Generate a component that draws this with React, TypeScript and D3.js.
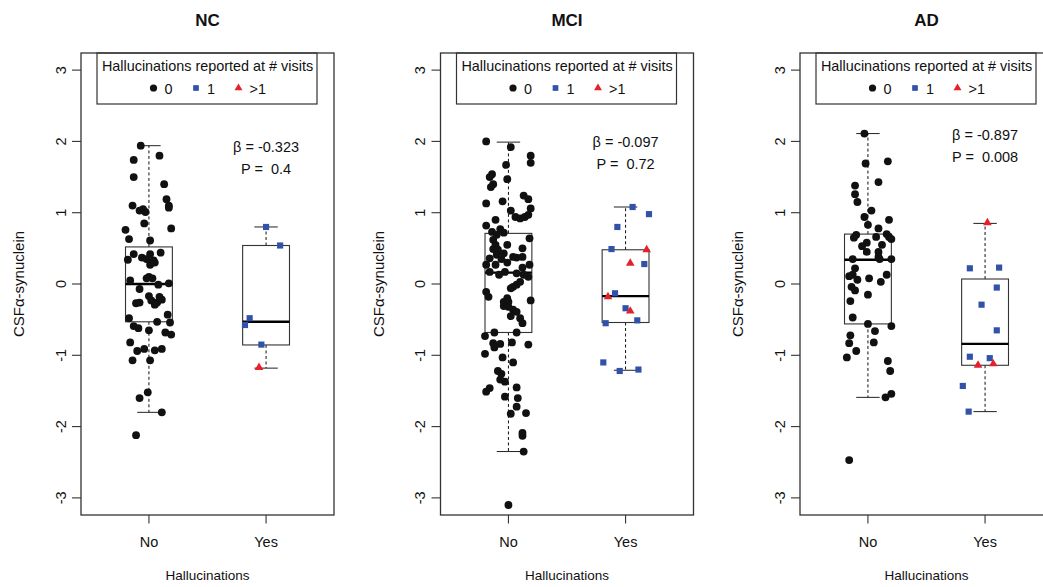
import React from 'react';
import * as d3 from 'd3';

// panels and categories
const groups = ['NC', 'MCI', 'AD'];
const categories = ['No', 'Yes'];
const visitLevels = ['0', '1', '>1'];
const yTicks = [-3, -2, -1, 0, 1, 2, 3];
const betas = ['-0.323', '-0.097', '-0.897'];
const pValues = ['0.4', '0.72', '0.008'];

// [lower whisker, Q1, median, Q3, upper whisker] for No, Yes
const ncBoxes = [[-1.80, -0.53, 0.00, 0.52, 1.94], [-1.18, -0.855, -0.53, 0.54, 0.80]];
const mciBoxes = [[-2.35, -0.68, 0.16, 0.71, 1.99], [-1.21, -0.54, -0.17, 0.48, 1.08]];
const adBoxes = [[-1.59, -0.56, 0.34, 0.70, 2.11], [-1.79, -1.14, -0.84, 0.07, 0.85]];

// "No" points: [jitter, value] (all 0 visits)
const ncNo = [
  [-0.07, 1.94], [0.09, 1.80], [-0.13, 1.74], [-0.13, 1.50], [0.13, 1.40], [0.15, 1.19], [0.17, 1.10],
  [0.17, 1.07], [-0.14, 1.10], [-0.08, 1.03], [-0.05, 1.05], [-0.03, 1.01], [-0.04, 0.85], [-0.20, 0.76],
  [0.19, 0.78], [-0.17, 0.63], [0.01, 0.61], [-0.13, 0.42], [0.10, 0.44], [0.01, 0.42], [-0.18, 0.34],
  [-0.06, 0.37], [-0.02, 0.35], [0.04, 0.33], [0.01, 0.27], [0.05, 0.30], [0.00, 0.10], [0.03, 0.08],
  [-0.16, 0.05], [-0.02, 0.08], [0.17, 0.01], [0.08, -0.01], [-0.08, -0.07], [0.00, -0.17], [0.09, -0.18],
  [-0.11, -0.27], [-0.08, -0.26], [0.02, -0.23], [0.07, -0.26], [0.11, -0.22], [0.05, -0.29], [-0.17, -0.48],
  [0.16, -0.43], [0.18, -0.54], [0.07, -0.53], [-0.13, -0.59], [-0.09, -0.62], [0.00, -0.65], [0.14, -0.68],
  [0.19, -0.71], [-0.16, -0.82], [-0.10, -0.94], [-0.04, -0.91], [0.05, -0.93], [0.11, -0.91], [-0.14, -1.07],
  [0.01, -1.07], [-0.01, -1.52], [-0.08, -1.60], [0.11, -1.80], [-0.11, -2.12],
];
const mciNo = [
  [-0.19, 2.00], [0.02, 1.92], [0.19, 1.80], [0.19, 1.70], [-0.02, 1.67], [-0.14, 1.54], [-0.16, 1.50],
  [-0.01, 1.47], [-0.13, 1.40], [-0.15, 1.36], [0.13, 1.24], [0.17, 1.19], [-0.19, 1.13], [-0.05, 1.16],
  [0.19, 1.06], [0.02, 1.03], [0.06, 0.94], [0.10, 0.92], [0.14, 0.94], [0.17, 0.97], [-0.11, 0.90],
  [-0.19, 0.82], [-0.07, 0.77], [-0.14, 0.73], [-0.04, 0.72], [-0.10, 0.69], [0.18, 0.64], [-0.13, 0.62],
  [-0.11, 0.55], [-0.13, 0.49], [-0.09, 0.48], [-0.01, 0.55], [0.12, 0.50], [-0.04, 0.43], [-0.10, 0.41],
  [-0.16, 0.36], [0.04, 0.38], [0.07, 0.37], [0.12, 0.38], [-0.06, 0.35], [-0.19, 0.27], [-0.11, 0.27],
  [-0.01, 0.30], [0.18, 0.27], [0.12, 0.23], [-0.16, 0.17], [-0.08, 0.13], [-0.03, 0.17], [0.07, 0.15],
  [0.13, 0.13], [0.17, 0.10], [0.10, 0.03], [0.04, -0.04], [0.07, -0.01], [0.02, -0.06], [-0.19, -0.11],
  [-0.17, -0.18], [-0.01, -0.20], [-0.04, -0.25], [0.00, -0.25], [0.19, -0.23], [-0.04, -0.31], [0.00, -0.32],
  [0.04, -0.36], [0.07, -0.39], [0.02, -0.45], [0.10, -0.48], [0.12, -0.55], [-0.20, -0.73], [-0.12, -0.68],
  [0.07, -0.68], [-0.13, -0.83], [-0.07, -0.84], [0.03, -0.82], [0.17, -0.85], [-0.12, -0.89], [-0.20, -0.98],
  [-0.05, -1.03], [0.04, -1.10], [-0.09, -1.22], [-0.06, -1.26], [-0.07, -1.34], [-0.03, -1.37], [0.07, -1.45],
  [-0.16, -1.46], [-0.19, -1.51], [-0.03, -1.58], [0.08, -1.60], [0.07, -1.72], [0.02, -1.82], [0.15, -1.81],
  [0.12, -2.09], [0.12, -2.13], [0.13, -2.35], [0.00, -3.10],
];
const adNo = [
  [-0.03, 2.11], [-0.02, 1.69], [0.17, 1.72], [0.09, 1.43], [-0.11, 1.38], [-0.11, 1.26], [-0.09, 1.15],
  [0.03, 1.03], [-0.03, 0.94], [0.18, 0.90], [0.00, 0.83], [0.09, 0.78], [-0.10, 0.69], [-0.12, 0.65],
  [0.07, 0.66], [0.16, 0.70], [0.18, 0.66], [0.20, 0.63], [-0.01, 0.58], [0.12, 0.55], [-0.05, 0.53],
  [-0.01, 0.45], [0.09, 0.45], [0.09, 0.38], [-0.13, 0.35], [0.10, 0.35], [0.20, 0.35], [-0.11, 0.22],
  [-0.13, 0.13], [0.01, 0.08], [0.16, 0.13], [-0.16, 0.11], [-0.09, 0.06], [0.11, 0.03], [-0.14, -0.04],
  [-0.11, -0.09], [-0.15, -0.24], [0.00, -0.15], [-0.13, -0.47], [0.00, -0.56], [0.20, -0.59], [0.06, -0.66],
  [-0.15, -0.72], [-0.16, -0.83], [0.05, -0.82], [-0.10, -0.94], [-0.18, -1.03], [0.17, -1.08], [0.19, -1.22],
  [0.15, -1.59], [0.20, -1.54], [-0.16, -2.47],
];

// "Yes" points: [jitter, value, visit level index]
const ncYes = [
  [0.00, 0.80, 1], [0.12, 0.54, 1], [-0.18, -0.575, 1], [-0.14, -0.48, 1], [-0.04, -0.85, 1], [-0.06, -1.17, 2],
];
const mciYes = [
  [0.06, 1.08, 1], [0.20, 0.98, 1], [-0.07, 0.80, 1], [-0.12, 0.49, 1], [0.18, 0.48, 2], [0.04, 0.29, 2],
  [0.16, 0.28, 1], [-0.09, -0.13, 1], [-0.15, -0.18, 2], [0.00, -0.34, 1], [0.04, -0.38, 2], [-0.17, -0.55, 1],
  [0.10, -0.51, 1], [-0.19, -1.10, 1], [-0.05, -1.22, 1], [0.11, -1.20, 1],
];
const adYes = [
  [0.02, 0.86, 2], [-0.13, 0.22, 1], [0.12, 0.23, 1], [0.10, -0.05, 1], [-0.03, -0.29, 1], [0.10, -0.65, 1],
  [-0.13, -1.02, 1], [0.04, -1.04, 1], [-0.06, -1.14, 2], [0.07, -1.12, 2], [-0.19, -1.43, 1], [-0.14, -1.79, 1],
];

const boxesByGroup = [ncBoxes, mciBoxes, adBoxes];
const noByGroup = [ncNo, mciNo, adNo];
const yesByGroup = [ncYes, mciYes, adYes];

const W = 1043;
const H = 587;
const FONT = '"Liberation Sans", Arial, Helvetica, sans-serif';
const panelLeft = 81;
const panelStep = 359.5;
const plotW = 253;
const plotTop = 53;
const plotH = 462;
const visitColors = ['#111111', '#3152a8', '#e5202a'];
const symbolTypes = [d3.symbolCircle, d3.symbolSquare, d3.symbolTriangle];
const symbolSizes = [48, 38, 32];

const x = d3.scaleLinear().domain([0.42, 2.58]).range([0, plotW]);
const y = d3.scaleLinear().domain([-3.24, 3.24]).range([plotH, 0]);
const boxHalf = x(1.2) - x(1);
const capHalf = boxHalf / 2;

const symbolPath = (i: number, scale = 1) =>
  d3.symbol().type(symbolTypes[i]).size(symbolSizes[i] * scale)() as string;

const Panel = ({ gi }: { gi: number }) => {
  const boxes = boxesByGroup[gi];
  const pts = [
    ...noByGroup[gi].map(([j, v]) => ({ cx: x(1 + j), cy: y(v), lvl: 0 })),
    ...yesByGroup[gi].map(([j, v, l]) => ({ cx: x(2 + j), cy: y(v), lvl: l })),
  ];
  const allVals = [...noByGroup[gi].map(d => d[1]), ...yesByGroup[gi].map(d => d[1])];
  const annY = y(d3.max(allVals) as number);
  const mid = plotW / 2;
  return (
    <g transform={`translate(${panelLeft + gi * panelStep},${plotTop})`}>
      <text x={mid} y={-27.5} textAnchor="middle" fontWeight="bold" fontSize={17}>{groups[gi]}</text>

      {/* legend */}
      <rect x={mid - 110.5} y={0} width={220} height={51} fill="white" stroke="#333" strokeWidth={1.2} />
      <text x={mid} y={18} textAnchor="middle" fontSize={14.4}>Hallucinations reported at # visits</text>
      {visitLevels.map((lab, i) => {
        const sx = mid - 54 + i * 42.5;
        return (
          <g key={lab}>
            <path d={symbolPath(i, 0.85)} transform={`translate(${sx},${35})`} fill={visitColors[i]} />
            <text x={sx + 11} y={40.5} fontSize={14.4}>{lab}</text>
          </g>
        );
      })}

      {/* boxes */}
      {boxes.map((b, ci) => {
        const cx = x(ci + 1);
        const [lo, q1, med, q3, hi] = b;
        return (
          <g key={ci}>
            <line x1={cx} x2={cx} y1={y(q3)} y2={y(hi)} stroke="#111" strokeDasharray="3,2.5" strokeWidth={1} />
            <line x1={cx} x2={cx} y1={y(q1)} y2={y(lo)} stroke="#111" strokeDasharray="3,2.5" strokeWidth={1} />
            <line x1={cx - capHalf} x2={cx + capHalf} y1={y(hi)} y2={y(hi)} stroke="#222" strokeWidth={1} />
            <line x1={cx - capHalf} x2={cx + capHalf} y1={y(lo)} y2={y(lo)} stroke="#222" strokeWidth={1} />
            <rect x={cx - boxHalf} y={y(q3)} width={boxHalf * 2} height={y(q1) - y(q3)} fill="none" stroke="#333" strokeWidth={1.1} />
            <line x1={cx - boxHalf} x2={cx + boxHalf} y1={y(med)} y2={y(med)} stroke="#000" strokeWidth={2.4} />
          </g>
        );
      })}

      {/* points */}
      {pts.map((p, i) => (
        <path key={i} d={symbolPath(p.lvl)} transform={`translate(${p.cx},${p.cy})`} fill={visitColors[p.lvl]} />
      ))}

      {/* annotation */}
      <text x={x(2)} y={annY + 6} textAnchor="middle" fontSize={14.5} style={{ whiteSpace: 'pre' }}>{`β = ${betas[gi]}`}</text>
      <text x={x(2)} y={annY + 28} textAnchor="middle" fontSize={14.5} style={{ whiteSpace: 'pre' }}>{`P =  ${pValues[gi]}`}</text>

      {/* frame */}
      <rect x={0} y={0} width={plotW} height={plotH} fill="none" stroke="#333" strokeWidth={1.3} />

      {/* y axis */}
      {yTicks.map(t => (
        <g key={t} transform={`translate(0,${y(t)})`}>
          <line x1={-9} x2={0} stroke="#333" strokeWidth={1.1} />
          <text transform={`translate(-15.5,0) rotate(-90)`} textAnchor="middle" fontSize={14.5}>{t}</text>
        </g>
      ))}
      <text transform={`translate(-57,${plotH / 2}) rotate(-90)`} textAnchor="middle" fontSize={15}>CSFα-synuclein</text>

      {/* x axis */}
      {categories.map((c, ci) => (
        <g key={c} transform={`translate(${x(ci + 1)},${plotH})`}>
          <line y1={0} y2={8.5} stroke="#333" strokeWidth={1.1} />
          <text y={32} textAnchor="middle" fontSize={14.5}>{c}</text>
        </g>
      ))}
      <text x={mid} y={plotH + 65} textAnchor="middle" fontSize={13.5}>Hallucinations</text>
    </g>
  );
};

export default function App() {
  return (
    <svg width={W} height={H} style={{ position: 'absolute', left: 0, top: 0, background: 'white' }} fontFamily={FONT} fill="#111">
      <rect width={W} height={H} fill="white" />
      {groups.map((g, gi) => <Panel key={g} gi={gi} />)}
    </svg>
  );
}
